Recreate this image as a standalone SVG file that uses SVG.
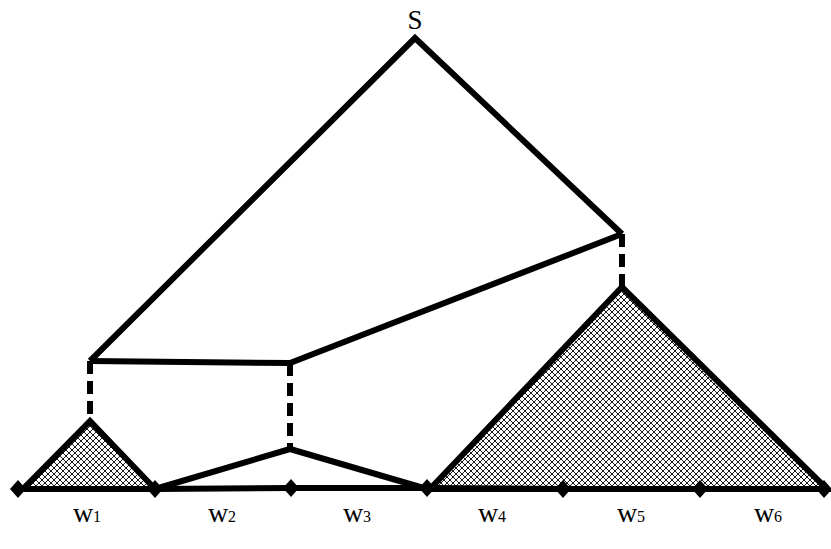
<svg xmlns="http://www.w3.org/2000/svg" width="831" height="549" viewBox="0 0 831 549">
<defs>
<pattern id="hatch" width="6" height="6" patternUnits="userSpaceOnUse">
<rect width="6" height="6" fill="#fff"/>
<path d="M0,0 L6,6 M6,0 L0,6" stroke="#000" stroke-width="0.9"/>
</pattern>
<path id="dm" d="M0,-9 L8,0 L0,9 L-8,0 Z" fill="#000"/>
</defs>
<style>
.ln{stroke:#000;stroke-width:6;fill:none;stroke-linejoin:miter;stroke-linecap:butt}
.ds{stroke:#000;stroke-width:6;fill:none;stroke-dasharray:13 7}
.tri{stroke:#000;stroke-width:6;fill:url(#hatch);stroke-linejoin:miter}
.lbl{font-family:"Liberation Serif","Times New Roman",serif;font-size:28px;fill:#000;text-anchor:middle}
.sub{font-size:16px}
</style>
<g id="S"><text class="lbl" x="415" y="29" style="font-size:27px">S</text></g>
<g id="tree1"><polygon class="tri" points="90,421 23,489 155,489"/></g>
<g id="tree2"><polygon class="tri" points="622,287 430,489 827,489"/></g>
<g id="connectors">
<polyline class="ln" points="90,361 415,38 622,234"/>
<polyline class="ln" points="90,361 290,363 622,234"/>
<line class="ds" x1="90" y1="361" x2="90" y2="421"/>
<line class="ds" x1="290" y1="363" x2="290" y2="449"/>
<line class="ds" x1="622" y1="234" x2="622" y2="287"/>
<polyline class="ln" points="155,489 290,449 427,489"/>
<polyline class="ln" points="18,489 155,489 291,488 427,488 563,489 700,489 826,489"/>
<use href="#dm" x="18" y="489"/>
<use href="#dm" x="155" y="489"/>
<use href="#dm" x="291" y="488"/>
<use href="#dm" x="427" y="488"/>
<use href="#dm" x="563" y="489"/>
<use href="#dm" x="700" y="489"/>
<use href="#dm" x="824" y="489"/>
</g>
<g id="labels">
<text class="lbl" x="87" y="522">w<tspan class="sub">1</tspan></text>
<text class="lbl" x="222" y="522">w<tspan class="sub">2</tspan></text>
<text class="lbl" x="357" y="522">w<tspan class="sub">3</tspan></text>
<text class="lbl" x="492" y="522">w<tspan class="sub">4</tspan></text>
<text class="lbl" x="631" y="522">w<tspan class="sub">5</tspan></text>
<text class="lbl" x="768" y="522">w<tspan class="sub">6</tspan></text>
</g>
</svg>
